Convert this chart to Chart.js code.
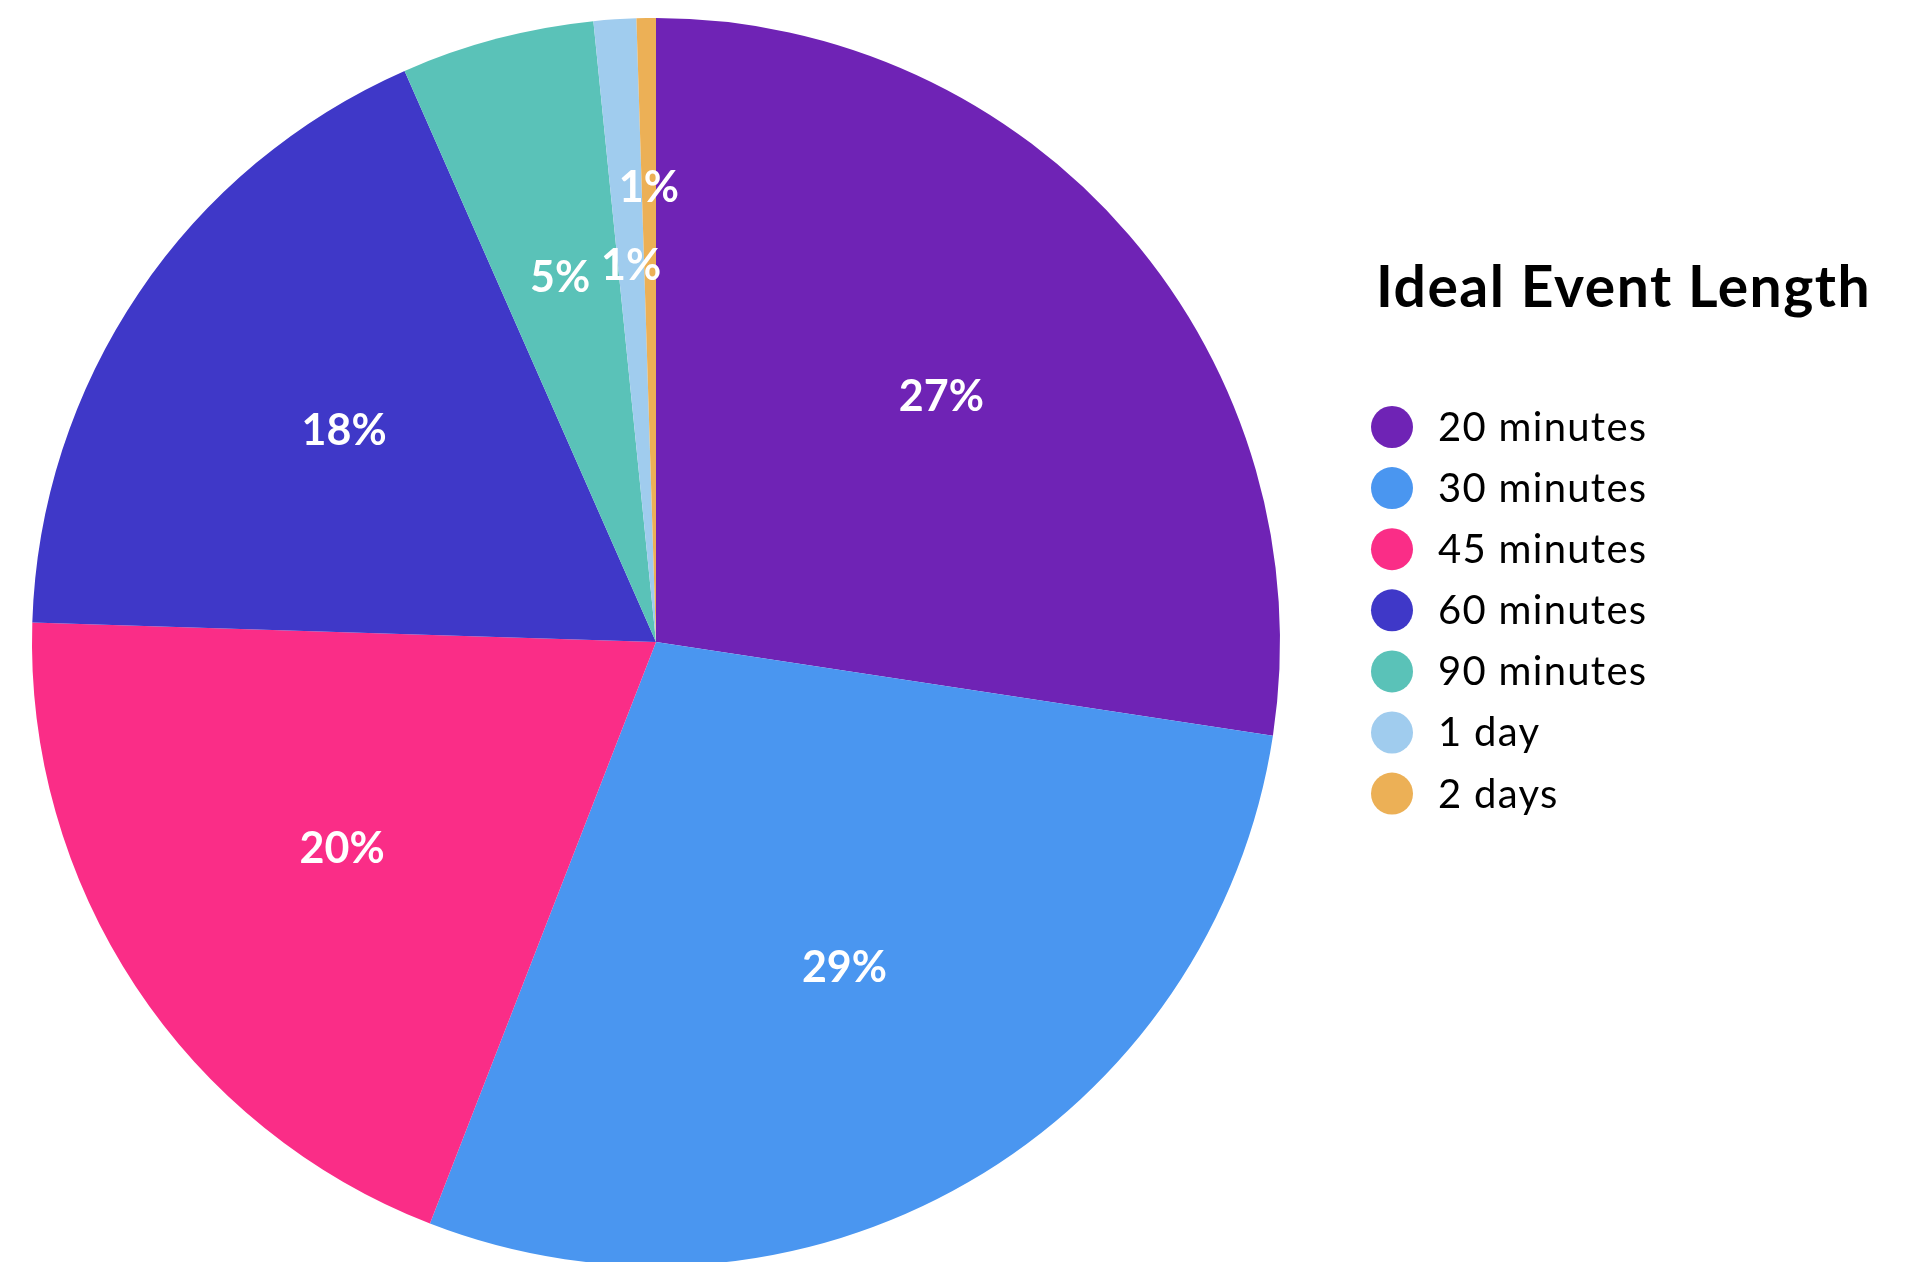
<!DOCTYPE html>
<html>
<head>
<meta charset="utf-8">
<script src="https://cdn.jsdelivr.net/npm/chart.js@4"></script>
<style>
  html, body { margin: 0; padding: 0; background: #fff; overflow: hidden; }
  #wrap { width: 1917px; height: 1270px; }
</style>
</head>
<body>
<div id="wrap"><canvas id="pie" width="1917" height="1270"></canvas></div>
<script>
const categories = ["20 minutes", "30 minutes", "45 minutes", "60 minutes", "90 minutes", "1 day", "2 days"];
const shares = [27.4, 28.5, 19.6, 17.9, 5.0, 1.1, 0.5];
const colors = ["#6F23B5", "#4A96F0", "#FA2D87", "#3F38C8", "#5AC2B8", "#A0CCEE", "#ECB056"];
const legendTitle = "Ideal Event Length";

Chart.defaults.font.family = "Lato, 'Noto Sans', sans-serif";

const total = shares.reduce((a, b) => a + b, 0);

// percent labels inside slices
const sliceLabels = {
  id: "sliceLabels",
  afterDatasetsDraw(chart) {
    const { ctx } = chart;
    const arcs = chart.getDatasetMeta(0).data;
    ctx.save();
    ctx.fillStyle = "#fff";
    ctx.font = "700 43px Lato, sans-serif";
    ctx.textAlign = "center";
    ctx.textBaseline = "middle";
    arcs.forEach((arc, i) => {
      const pct = (shares[i] * 100) / total;
      const mid = (arc.startAngle + arc.endAngle) / 2;
      // very thin slices get pushed outward so labels don't collide
      const r = arc.outerRadius * (pct < 1 ? 0.728 : 0.603);
      const x = arc.x + Math.cos(mid) * r;
      const y = arc.y + Math.sin(mid) * r;
      ctx.fillText(Math.round(pct) + "%", x, y);
    });
    ctx.restore();
  },
};

// legend on the right, title first
const sideLegend = {
  id: "sideLegend",
  afterDraw(chart) {
    const { ctx } = chart;
    ctx.save();
    ctx.fillStyle = "#000";
    ctx.textAlign = "left";
    ctx.textBaseline = "alphabetic";
    ctx.letterSpacing = "1.5px";
    ctx.font = "700 57px Lato, sans-serif";
    ctx.fillText(legendTitle, 1376, 307);

    ctx.letterSpacing = "1.3px";
    ctx.font = "400 40px Lato, sans-serif";
    ctx.textBaseline = "middle";
    categories.forEach((name, i) => {
      const cy = 427 + i * 61.1;
      ctx.beginPath();
      ctx.arc(1392, cy, 21, 0, Math.PI * 2);
      ctx.fillStyle = colors[i];
      ctx.fill();
      ctx.fillStyle = "#000";
      ctx.fillText(name, 1438, cy + 1);
    });
    ctx.restore();
  },
};

new Chart(document.getElementById("pie"), {
  type: "pie",
  data: {
    labels: categories,
    datasets: [
      {
        data: shares,
        backgroundColor: colors,
        borderWidth: 0,
        hoverOffset: 0,
      },
    ],
  },
  options: {
    responsive: false,
    animation: false,
    layout: {
      padding: { left: 32, top: 18, bottom: 4, right: 637 },
    },
    plugins: {
      legend: { display: false },
      tooltip: { enabled: false },
    },
  },
  plugins: [sliceLabels, sideLegend],
});
</script>
</body>
</html>
